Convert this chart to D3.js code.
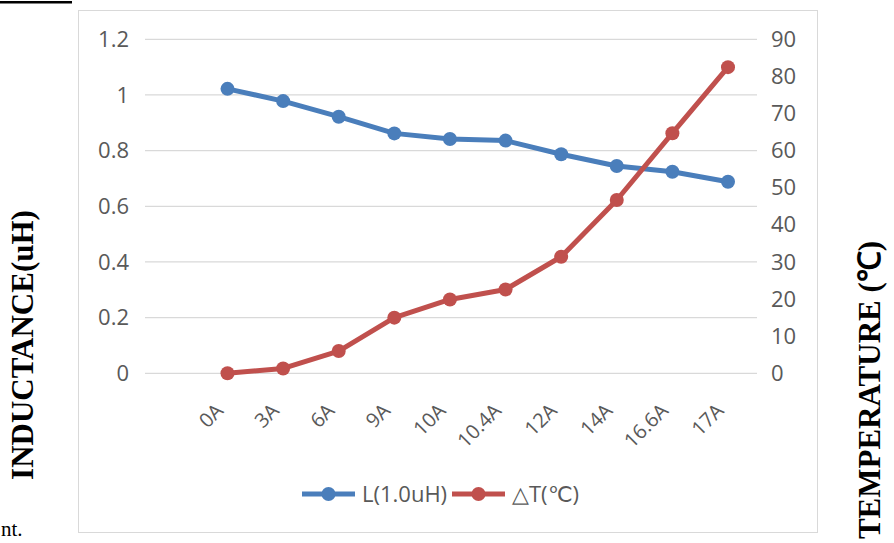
<!DOCTYPE html>
<html>
<head>
<meta charset="utf-8">
<script src="https://cdn.jsdelivr.net/npm/d3@7/dist/d3.min.js"></script>
<style>
  html, body { margin: 0; padding: 0; background: #fff; }
  svg { display: block; }
</style>
</head>
<body>
<svg id="chart" width="894" height="543"></svg>
<script>
const categories = ["0A", "3A", "6A", "9A", "10A", "10.4A", "12A", "14A", "16.6A", "17A"];
const inductance = [1.022, 0.978, 0.922, 0.862, 0.842, 0.836, 0.787, 0.745, 0.724, 0.688];
const deltaT = [0, 1.3, 6.0, 15.0, 19.9, 22.6, 31.4, 46.7, 64.7, 82.5];
const leftTicks = [0, 0.2, 0.4, 0.6, 0.8, 1, 1.2];
const rightTicks = [0, 10, 20, 30, 40, 50, 60, 70, 80, 90];
const seriesNames = ["L(1.0uH)", "\u25B3T(\u2103)"];
const leftTitle = "INDUCTANCE(uH)";
const rightTitle = "TEMPERATURE (\u2103)";

const blue = "#4a7ebb", red = "#c0504d";
const svg = d3.select("#chart");
const font = "'Open Sans', sans-serif";

// fragment of surrounding page
svg.append("rect").attr("x", 0).attr("y", 1).attr("width", 72).attr("height", 2.5).attr("fill", "#000");
svg.append("text").attr("x", 1).attr("y", 536).attr("font-family", "'Liberation Serif', serif")
  .attr("font-size", 21).attr("fill", "#000").text("nt.");

// chart frame
svg.append("rect").attr("x", 78.5).attr("y", 10.5).attr("width", 739).attr("height", 522)
  .attr("fill", "#fff").attr("stroke", "#d9d9d9").attr("stroke-width", 1);

const x = d3.scalePoint().domain(categories).range([227.5, 728]);
const yL = d3.scaleLinear().domain([0, 1.2]).range([373.3, 39.3]);
const yR = d3.scaleLinear().domain([0, 90]).range([373.3, 39.3]);

// gridlines
svg.append("g").selectAll("line").data(leftTicks).join("line")
  .attr("x1", 145).attr("x2", 757)
  .attr("y1", d => yL(d)).attr("y2", d => yL(d))
  .attr("stroke", "#d9d9d9").attr("stroke-width", 1.2);

// left axis labels
const axL = svg.append("g").attr("transform", "translate(129,0)")
  .call(d3.axisLeft(yL).tickValues(leftTicks).tickSize(0).tickPadding(0).tickFormat(d3.format("~g")));
axL.select(".domain").remove();
axL.selectAll("text").attr("font-family", font).attr("font-size", 22).attr("fill", "#595959");

// right axis labels
const axR = svg.append("g").attr("transform", "translate(771,0)")
  .call(d3.axisRight(yR).tickValues(rightTicks).tickSize(0).tickPadding(0));
axR.select(".domain").remove();
axR.selectAll("text").attr("font-family", font).attr("font-size", 22).attr("fill", "#595959");

// x labels
svg.append("g").selectAll("text").data(categories).join("text")
  .attr("transform", d => `translate(${x(d) - 3},${412}) rotate(-45)`)
  .attr("text-anchor", "end")
  .attr("font-family", font).attr("font-size", 20).attr("fill", "#595959")
  .text(d => d);

// lines
const lineL = d3.line().x((d, i) => x(categories[i])).y(d => yL(d));
const lineR = d3.line().x((d, i) => x(categories[i])).y(d => yR(d));

svg.append("path").datum(inductance).attr("d", lineL).attr("fill", "none")
  .attr("stroke", blue).attr("stroke-width", 5).attr("stroke-linejoin", "round");
svg.append("g").selectAll("circle").data(inductance).join("circle")
  .attr("cx", (d, i) => x(categories[i])).attr("cy", d => yL(d)).attr("r", 7).attr("fill", blue);

svg.append("path").datum(deltaT).attr("d", lineR).attr("fill", "none")
  .attr("stroke", red).attr("stroke-width", 5).attr("stroke-linejoin", "round");
svg.append("g").selectAll("circle").data(deltaT).join("circle")
  .attr("cx", (d, i) => x(categories[i])).attr("cy", d => yR(d)).attr("r", 7).attr("fill", red);

// legend
const legend = [
  { name: seriesNames[0], color: blue, x0: 302 },
  { name: seriesNames[1], color: red, x0: 452 }
];
const lg = svg.append("g").selectAll("g").data(legend).join("g")
  .attr("transform", d => `translate(${d.x0},494)`);
lg.append("line").attr("x1", 0).attr("x2", 53).attr("y1", 0).attr("y2", 0)
  .attr("stroke", d => d.color).attr("stroke-width", 5);
lg.append("circle").attr("cx", 26.5).attr("cy", 0).attr("r", 7).attr("fill", d => d.color);
lg.append("text").attr("x", 60).attr("y", 0).attr("dy", "0.35em")
  .attr("font-family", font).attr("font-size", 22).attr("fill", "#595959")
  .text(d => d.name);

// axis titles
svg.append("text").attr("transform", "translate(33,345) rotate(-90)")
  .attr("text-anchor", "middle").attr("font-family", "'Liberation Serif', serif")
  .attr("font-weight", "bold").attr("font-size", 31).attr("fill", "#000").text(leftTitle);
svg.append("text").attr("transform", "translate(880,390) rotate(-90)")
  .attr("text-anchor", "middle").attr("font-family", "'Liberation Serif', serif")
  .attr("font-weight", "bold").attr("font-size", 31).attr("fill", "#000").text(rightTitle);
</script>
</body>
</html>
